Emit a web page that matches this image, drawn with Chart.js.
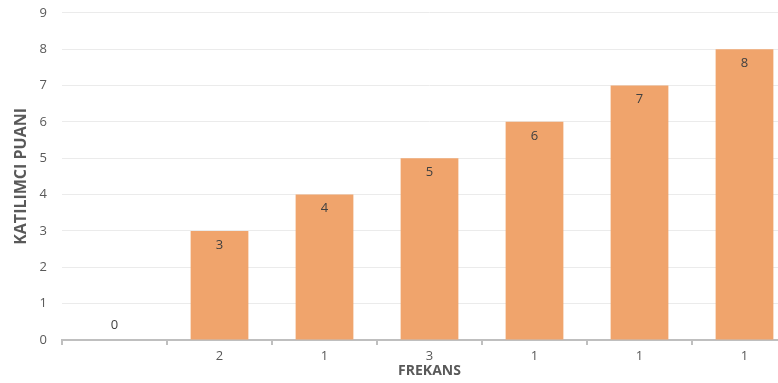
<!DOCTYPE html>
<html>
<head>
<meta charset="utf-8">
<script src="https://cdn.jsdelivr.net/npm/chart.js@4.4.1/dist/chart.umd.min.js"></script>
<style>
  html, body { margin: 0; padding: 0; background: #ffffff; overflow: hidden; }
  #kutu { width: 800px; height: 383px; position: relative; }
</style>
</head>
<body>
<div id="kutu"><canvas id="grafik"></canvas></div>
<script>
const frekanslar = ["", "2", "1", "3", "1", "1", "1"];
const puanlar = [0, 3, 4, 5, 6, 7, 8];
const yEtiketleri = [0, 1, 2, 3, 4, 5, 6, 7, 8, 9];

const yaziRengi = "#595959";
const barRengi = "#f0a46c";
const yaziTipi = "'Open Sans', 'Liberation Sans', sans-serif";

// bar degerlerini yaz
const degerYazisi = {
  id: "degerYazisi",
  afterDatasetsDraw(chart) {
    const ctx = chart.ctx;
    const meta = chart.getDatasetMeta(0);
    const yOlcek = chart.scales.y;
    ctx.save();
    ctx.font = "13px " + yaziTipi;
    ctx.fillStyle = "#404040";
    ctx.textAlign = "center";
    ctx.textBaseline = "middle";
    meta.data.forEach((bar, i) => {
      const v = puanlar[i];
      const y = yOlcek.getPixelForValue(v);
      ctx.fillText(String(v), bar.x, v > 0 ? y + 14 : y - 15);
    });
    ctx.restore();
  }
};

new Chart(document.getElementById("grafik"), {
  type: "bar",
  data: {
    labels: frekanslar,
    datasets: [{
      label: "Puan",
      data: puanlar,
      backgroundColor: barRengi,
      borderWidth: 0,
      categoryPercentage: 1,
      barPercentage: 0.55
    }]
  },
  options: {
    responsive: true,
    maintainAspectRatio: false,
    animation: false,
    layout: { padding: { top: 2, right: 3, left: 0, bottom: 0 } },
    plugins: {
      legend: { display: false },
      tooltip: { enabled: false }
    },
    scales: {
      x: {
        offset: true,
        grid: {
          offset: true,
          drawOnChartArea: false,
          drawTicks: true,
          tickLength: 5,
          color: "#bfbfbf",
          lineWidth: 2
        },
        border: { color: "#bfbfbf", width: 2 },
        ticks: {
          color: yaziRengi,
          font: { family: yaziTipi, size: 13 },
          padding: 3,
          maxRotation: 0
        },
        title: {
          display: true,
          text: "FREKANS",
          color: yaziRengi,
          font: { family: yaziTipi, size: 14, weight: "bold" },
          padding: { top: 0, bottom: 4 }
        },
        afterFit(scale) { scale.height = 43; }
      },
      y: {
        min: 0,
        max: 9,
        afterBuildTicks(scale) {
          scale.ticks = yEtiketleri.map(v => ({ value: v }));
        },
        grid: {
          color: "#ebebeb",
          drawTicks: true,
          tickLength: 10,
          tickColor: "rgba(0,0,0,0)"
        },
        border: { display: false },
        ticks: {
          color: yaziRengi,
          font: { family: yaziTipi, size: 13 },
          padding: 5
        },
        title: {
          display: true,
          text: "KATILIMCI PUANI",
          color: yaziRengi,
          font: { family: yaziTipi, size: 16, weight: "bold" },
          padding: { top: 12, bottom: 0 }
        },
        afterFit(scale) { scale.width = 62; }
      }
    }
  },
  plugins: [degerYazisi]
});
</script>
</body>
</html>
